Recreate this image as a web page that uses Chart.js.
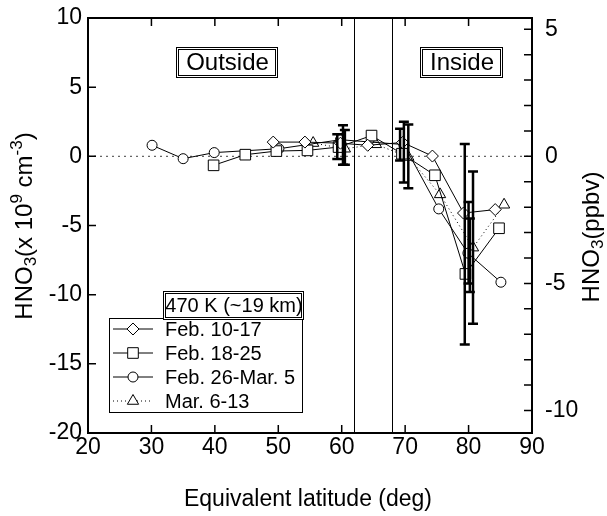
<!DOCTYPE html>
<html>
<head>
<meta charset="utf-8">
<script src="https://cdn.jsdelivr.net/npm/chart.js@4/dist/chart.umd.min.js"></script>
<style>
  html, body { margin: 0; padding: 0; background: #fff; }
  #wrap { width: 607px; height: 516px; }
</style>
</head>
<body>
<div id="wrap"><canvas id="myChart" width="607" height="516"></canvas></div>
<script>
// equivalent latitude (deg) and HNO3 change (x 10^9 cm-3)
const latFeb10 = [49.2, 54.2, 59.8, 64.1, 69.6, 74.3, 79.2, 84.2];
const hno3Feb10 = [1.03, 1.03, 0.95, 0.8, 1.0, 0.02, -4.1, -3.85];

const latFeb18 = [39.8, 44.8, 49.7, 54.6, 59.5, 64.7, 69.5, 74.7, 79.5, 84.8];
const hno3Feb18 = [-0.65, 0.12, 0.38, 0.43, 0.67, 1.5, 0.19, -1.37, -8.5, -5.2];

const latFeb26 = [30.1, 35.0, 39.9, 50.1, 59.8, 69.8, 75.3, 79.9, 85.1];
const hno3Feb26 = [0.8, -0.17, 0.27, 0.55, 1.2, 0.85, -3.8, -7.0, -9.1];

const latMar6 = [55.5, 60.5, 65.4, 70.5, 75.5, 80.7, 85.6];
const hno3Mar6 = [0.96, 0.55, 0.87, -0.05, -2.75, -6.6, -3.5];

// error bars
const errLat  = [59.3, 60.2, 60.5, 69.2, 69.8, 70.5, 79.4, 80.7, 80.0, 80.2];
const errLow  = [-0.2, -0.6, -0.6, -0.3, -1.9, -2.3, -13.6, -12.1, -9.2, -9.8];
const errHigh = [1.6, 2.25, 1.9, 2.0, 2.5, 2.3, 0.9, -1.1, -3.3, -4.5];

const vortexEdges = [62, 68];
const seriesNames = ['Feb. 10-17', 'Feb. 18-25', 'Feb. 26-Mar. 5', 'Mar. 6-13'];
const legendTitle = '470 K (~19 km)';
const ppbvFactor = 1.837;   // 1 ppbv in 10^9 cm-3 at 470 K
const yMin = -20, yMax = 10;

const FONT = '"Liberation Sans", Arial, Helvetica, sans-serif';

function toXY(xs, ys) { return xs.map((x, i) => ({x: x, y: ys[i]})); }

function drawRich(ctx, parts, cx, cy) {
  let w = 0;
  parts.forEach(p => { ctx.font = p.size + 'px ' + FONT; w += ctx.measureText(p.t).width; });
  let x = cx - w / 2;
  ctx.textAlign = 'left';
  ctx.textBaseline = 'middle';
  parts.forEach(p => {
    ctx.font = p.size + 'px ' + FONT;
    ctx.fillText(p.t, x, cy + (p.dy || 0));
    x += ctx.measureText(p.t).width;
  });
}

function marker(ctx, style, x, y, r) {
  ctx.beginPath();
  if (style === 'rectRot') {
    ctx.moveTo(x, y - r); ctx.lineTo(x + r, y); ctx.lineTo(x, y + r); ctx.lineTo(x - r, y); ctx.closePath();
  } else if (style === 'rect') {
    const s = r * Math.SQRT1_2;
    ctx.rect(x - s, y - s, 2 * s, 2 * s);
  } else if (style === 'triangle') {
    ctx.moveTo(x, y - r);
    ctx.lineTo(x + r * Math.sin(Math.PI / 3), y + r / 2);
    ctx.lineTo(x - r * Math.sin(Math.PI / 3), y + r / 2);
    ctx.closePath();
  } else {
    ctx.arc(x, y, r, 0, Math.PI * 2);
  }
  ctx.fillStyle = '#fff';
  ctx.fill();
  ctx.stroke();
}

function textBox(ctx, label, x1, y1, x2, y2, size) {
  ctx.strokeStyle = '#000';
  ctx.lineWidth = 1;
  ctx.fillStyle = '#fff';
  ctx.fillRect(x1, y1, x2 - x1, y2 - y1);
  ctx.strokeRect(x1 + 0.5, y1 + 0.5, x2 - x1, y2 - y1);
  ctx.strokeRect(x1 + 2.5, y1 + 2.5, x2 - x1 - 4, y2 - y1 - 4);
  ctx.fillStyle = '#000';
  ctx.font = size + 'px ' + FONT;
  ctx.textAlign = 'center';
  ctx.textBaseline = 'middle';
  ctx.fillText(label, (x1 + x2) / 2 + 1, (y1 + y2) / 2 + 1);
}

const decor = {
  id: 'decor',
  beforeDatasetsDraw(chart) {
    const {ctx, chartArea: a, scales} = chart;
    ctx.save();
    const y0 = scales.y.getPixelForValue(0);
    ctx.strokeStyle = '#666';
    ctx.lineWidth = 1.2;
    ctx.setLineDash([2, 4]);
    ctx.beginPath(); ctx.moveTo(a.left, y0); ctx.lineTo(a.right, y0); ctx.stroke();
    ctx.setLineDash([]);
    ctx.strokeStyle = '#000';
    ctx.lineWidth = 1;
    vortexEdges.forEach(v => {
      const x = Math.round(scales.x.getPixelForValue(v)) + 0.5;
      ctx.beginPath(); ctx.moveTo(x, a.top); ctx.lineTo(x, a.bottom); ctx.stroke();
    });
    ctx.restore();
  },
  afterDatasetsDraw(chart) {
    const {ctx, chartArea: a, scales} = chart;
    const sx = scales.x, sy = scales.y, sy2 = scales.y2;
    ctx.save();

    // error bars
    ctx.strokeStyle = '#000';
    ctx.lineWidth = 2.5;
    errLat.forEach((lat, i) => {
      const x = sx.getPixelForValue(lat);
      const yl = sy.getPixelForValue(errLow[i]);
      const yh = sy.getPixelForValue(errHigh[i]);
      ctx.beginPath();
      ctx.moveTo(x, yl); ctx.lineTo(x, yh);
      ctx.moveTo(x - 5, yl); ctx.lineTo(x + 5, yl);
      ctx.moveTo(x - 5, yh); ctx.lineTo(x + 5, yh);
      ctx.stroke();
    });

    // frame
    ctx.lineWidth = 2;
    ctx.strokeRect(a.left, a.top, a.right - a.left, a.bottom - a.top);

    // inward ticks
    ctx.lineWidth = 1.5;
    ctx.beginPath();
    sx.ticks.forEach(t => {
      if (t.value <= sx.min || t.value >= sx.max) return;
      const x = sx.getPixelForValue(t.value);
      ctx.moveTo(x, a.bottom); ctx.lineTo(x, a.bottom - 8);
      ctx.moveTo(x, a.top); ctx.lineTo(x, a.top + 8);
    });
    sy.ticks.forEach(t => {
      if (t.value <= sy.min || t.value >= sy.max) return;
      const y = sy.getPixelForValue(t.value);
      ctx.moveTo(a.left, y); ctx.lineTo(a.left + 8, y);
    });
    sy2.ticks.forEach(t => {
      const y = sy2.getPixelForValue(t.value);
      ctx.moveTo(a.right, y); ctx.lineTo(a.right - 8, y);
    });
    ctx.stroke();

    // Outside / Inside labels
    textBox(ctx, 'Outside', 176, 47, 277, 77, 24);
    textBox(ctx, 'Inside', 420, 47, 502, 77, 24);

    // legend
    ctx.fillStyle = '#fff';
    ctx.fillRect(109, 318, 193, 94);
    ctx.strokeStyle = '#000';
    ctx.lineWidth = 1;
    ctx.strokeRect(109.5, 318.5, 193, 94);
    textBox(ctx, legendTitle, 163, 291, 303, 319, 20);
    chart.data.datasets.forEach((ds, i) => {
      const y = 329 + i * 24;
      ctx.strokeStyle = '#000';
      ctx.lineWidth = 1;
      ctx.setLineDash(ds.borderDash || []);
      ctx.beginPath(); ctx.moveTo(113, y); ctx.lineTo(153, y); ctx.stroke();
      ctx.setLineDash([]);
      marker(ctx, ds.pointStyle, 133, y, ds.pointRadius);
      ctx.fillStyle = '#000';
      ctx.font = '20px ' + FONT;
      ctx.textAlign = 'left';
      ctx.textBaseline = 'middle';
      ctx.fillText(ds.label, 165, y + 1);
    });

    // axis titles
    ctx.fillStyle = '#000';
    ctx.font = '23px ' + FONT;
    ctx.textAlign = 'center';
    ctx.textBaseline = 'middle';
    ctx.fillText('Equivalent latitude (deg)', 308, 500);

    ctx.save();
    ctx.translate(25, 226);
    ctx.rotate(-Math.PI / 2);
    drawRich(ctx, [
      {t: 'HNO', size: 24}, {t: '3', size: 17, dy: 6},
      {t: '(x 10', size: 24}, {t: '9', size: 17, dy: -8},
      {t: ' cm', size: 24}, {t: '-3', size: 17, dy: -8},
      {t: ')', size: 24}
    ], 0, 0);
    ctx.restore();

    ctx.save();
    ctx.translate(592, 237);
    ctx.rotate(-Math.PI / 2);
    drawRich(ctx, [
      {t: 'HNO', size: 24}, {t: '3', size: 17, dy: 6}, {t: '(ppbv)', size: 24}
    ], 0, 0);
    ctx.restore();

    ctx.restore();
  }
};

const common = {
  showLine: true,
  borderColor: '#000',
  borderWidth: 1,
  pointBorderColor: '#000',
  pointBackgroundColor: '#fff',
  pointBorderWidth: 1,
  fill: false
};

const ctx = document.getElementById('myChart').getContext('2d');
const chart = new Chart(ctx, {
  type: 'scatter',
  data: {
    datasets: [
      Object.assign({label: seriesNames[0], data: toXY(latFeb10, hno3Feb10), pointStyle: 'rectRot', pointRadius: 6}, common),
      Object.assign({label: seriesNames[1], data: toXY(latFeb18, hno3Feb18), pointStyle: 'rect', pointRadius: 7.5}, common),
      Object.assign({label: seriesNames[2], data: toXY(latFeb26, hno3Feb26), pointStyle: 'circle', pointRadius: 5}, common),
      Object.assign({label: seriesNames[3], data: toXY(latMar6, hno3Mar6), pointStyle: 'triangle', pointRadius: 6.5, borderDash: [1, 3]}, common)
    ]
  },
  options: {
    responsive: false,
    animation: false,
    layout: { padding: { top: 18, left: 0, right: 0, bottom: 0 } },
    plugins: {
      legend: { display: false },
      tooltip: { enabled: false }
    },
    scales: {
      x: {
        type: 'linear',
        min: 20, max: 90,
        ticks: { stepSize: 10, color: '#000', font: { family: FONT, size: 23 }, padding: 1, maxRotation: 0, autoSkip: false },
        grid: { drawOnChartArea: false, drawTicks: false },
        border: { display: false },
        afterFit: s => { s.height = 83; }
      },
      y: {
        position: 'left',
        min: yMin, max: yMax,
        ticks: { stepSize: 5, color: '#000', font: { family: FONT, size: 23, lineHeight: 0.4 }, padding: 6, autoSkip: false },
        grid: { drawOnChartArea: false, drawTicks: false },
        border: { display: false },
        afterFit: s => { s.width = 88; }
      },
      y2: {
        position: 'right',
        min: yMin / ppbvFactor, max: yMax / ppbvFactor,
        ticks: {
          stepSize: 1, includeBounds: false, autoSkip: false, color: '#000',
          font: { family: FONT, size: 23, lineHeight: 0.3 }, padding: 13,
          callback: v => (Math.round(v) % 5 === 0 ? String(Math.round(v)) : '')
        },
        grid: { drawOnChartArea: false, drawTicks: false },
        border: { display: false },
        afterFit: s => { s.width = 75; }
      }
    }
  },
  plugins: [decor]
});
</script>
</body>
</html>
